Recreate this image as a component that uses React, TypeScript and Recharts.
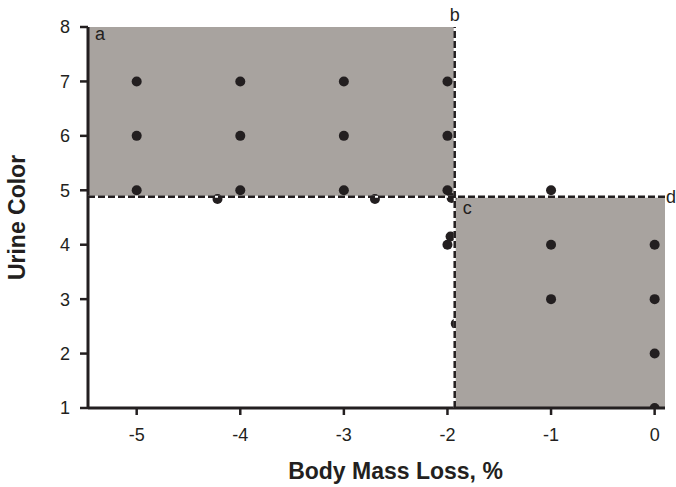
import { ScatterChart, Scatter, XAxis, YAxis, ReferenceArea, ReferenceLine } from 'recharts'

// body mass loss (%) vs urine color
const points = [
  { x: -5, y: 7 }, { x: -5, y: 6 }, { x: -5, y: 5 },
  { x: -4, y: 7 }, { x: -4, y: 6 }, { x: -4, y: 5 },
  { x: -3, y: 7 }, { x: -3, y: 6 }, { x: -3, y: 5 },
  { x: -2, y: 7 }, { x: -2, y: 6 }, { x: -2, y: 5 },
  { x: -4.22, y: 4.84 }, { x: -2.7, y: 4.84 }, { x: -1.96, y: 4.86 },
  { x: -1.97, y: 4.15 }, { x: -2, y: 4 },
  { x: -1, y: 5 }, { x: -1, y: 4 }, { x: -1, y: 3 },
  { x: 0, y: 4 }, { x: 0, y: 3 }, { x: 0, y: 2 }, { x: 0, y: 1 },
]
// one point mostly hidden behind the shaded zone
const hiddenPoints = [{ x: -1.92, y: 2.55 }]

const xTicks = [-5, -4, -3, -2, -1, 0]
const yTicks = [1, 2, 3, 4, 5, 6, 7, 8]
const xDomain = [-5.47, 0.1]
const yDomain = [1, 8]
const cutX = -1.93
const cutY = 4.88

const INK = '#231f20'
const SHADE = '#a8a39f'
const FONT = '"Liberation Sans", Arial, sans-serif'

const Dot = (p: any) => <circle cx={p.cx} cy={p.cy} r={5} fill={INK} />

const letter = (value: string, position: string, offset: number, dx = 0) => ({
  value,
  position,
  offset,
  dx,
  fill: INK,
  fontSize: 18,
  fontFamily: FONT,
})

export default function App() {
  return (
    <div style={{ position: 'absolute', left: 0, top: 0, background: '#fff' }}>
      <ScatterChart width={676} height={487} margin={{ top: 27, right: 11, bottom: 39, left: 10 }}>
        <XAxis
          type="number"
          dataKey="x"
          domain={xDomain}
          ticks={xTicks}
          allowDataOverflow
          height={40}
          tickSize={7}
          tickMargin={13}
          axisLine={{ stroke: INK, strokeWidth: 3 }}
          tickLine={{ stroke: INK, strokeWidth: 2.5 }}
          tick={{ fill: INK, fontSize: 18, fontFamily: FONT }}
          label={{
            value: 'Body Mass Loss, %',
            position: 'bottom',
            offset: 15,
            dx: 19,
            fill: INK,
            fontSize: 23,
            fontWeight: 'bold',
            fontFamily: FONT,
          }}
        />
        <YAxis
          type="number"
          dataKey="y"
          domain={yDomain}
          ticks={yTicks}
          allowDataOverflow
          width={78}
          tickSize={8}
          tickMargin={10}
          axisLine={{ stroke: INK, strokeWidth: 3 }}
          tickLine={{ stroke: INK, strokeWidth: 2.5 }}
          tick={{ fill: INK, fontSize: 18, fontFamily: FONT }}
          label={{
            value: 'Urine Color',
            angle: -90,
            position: 'insideLeft',
            offset: 7,
            fill: INK,
            fontSize: 23,
            fontWeight: 'bold',
            fontFamily: FONT,
            style: { textAnchor: 'middle' },
          }}
        />
        <Scatter data={hiddenPoints} shape={Dot} isAnimationActive={false} zIndex={50} />
        <ReferenceArea
          x1={xDomain[0]}
          x2={cutX}
          y1={cutY}
          y2={yDomain[1]}
          fill={SHADE}
          fillOpacity={1}
          stroke="none"
          zIndex={100}
          label={letter('a', 'insideTopLeft', 0, 7)}
        />
        <ReferenceArea
          x1={cutX}
          x2={xDomain[1]}
          y1={yDomain[0]}
          y2={cutY}
          fill={SHADE}
          fillOpacity={1}
          stroke="none"
          zIndex={100}
          label={letter('c', 'insideTopLeft', 4, 4)}
        />
        <Scatter data={points} shape={Dot} isAnimationActive={false} zIndex={600} />
        <ReferenceLine y={cutY} stroke="#fff" strokeWidth={2} zIndex={700} />
        <ReferenceLine
          y={cutY}
          stroke={INK}
          strokeWidth={2.5}
          strokeDasharray="7 3"
          zIndex={710}
          label={letter('d', 'right', 1)}
        />
        <ReferenceLine x={cutX} stroke="#fff" strokeWidth={2} zIndex={700} />
        <ReferenceLine
          x={cutX}
          stroke={INK}
          strokeWidth={2.5}
          strokeDasharray="7 3"
          zIndex={710}
          label={letter('b', 'top', 6)}
        />
      </ScatterChart>
    </div>
  )
}
